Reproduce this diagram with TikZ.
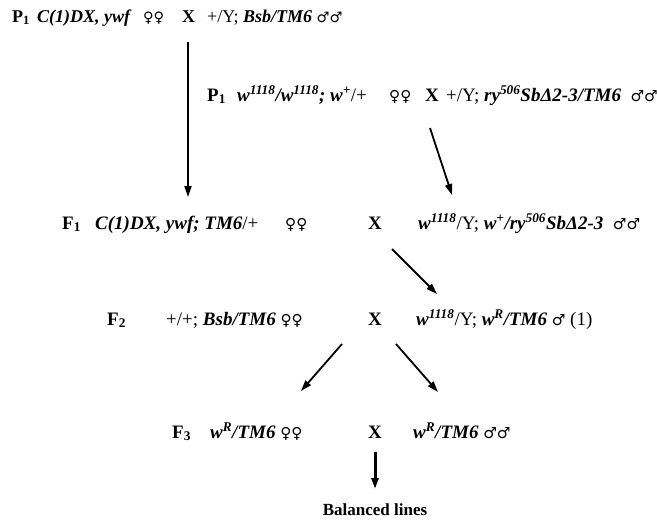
\documentclass[tikz,border=0pt]{standalone}
\usepackage{fontspec}
\setmainfont{Liberation Serif}
\newfontfamily\symfont[Scale=0.8]{DejaVu Sans}
\usetikzlibrary{arrows.meta}
\newcommand\gt[1]{\textbf{\textit{#1}}}
\newcommand\fem{{\symfont ♀♀}}
\newcommand\mal{{\symfont ♂♂}}
\newcommand\onemal{{\symfont ♂}}
\tikzset{
  txt/.style={inner sep=0pt, anchor=base west, font=\fontsize{19}{22}\selectfont},
  toprow/.style={txt, font=\fontsize{18}{21}\selectfont},
  gen/.style={txt, font=\fontsize{19}{22}\selectfont\bfseries},
  crossx/.style={txt, font=\fontsize{19}{22}\selectfont\bfseries},
  arr/.style={line width=1.8pt, -{Triangle[length=11pt,width=7pt]}},
}
\begin{document}
\begin{tikzpicture}[x=1pt,y=-1pt]
\useasboundingbox (0,0) rectangle (657,520);

% first parental cross
\node[gen, font=\fontsize{18}{21}\selectfont\bfseries] (p1a) at (12,22) {P\textsubscript{1}};
\node[toprow] (g1a) at (37,22) {\gt{C(1)DX, ywf}};
\node[toprow] (s1a) at (143,22) {\fem};
\node[crossx, font=\fontsize{18}{21}\selectfont\bfseries] (x1a) at (182,22) {X};
\node[toprow] (m1a) at (207,22) {+/Y; \gt{Bsb/TM6} \mal};

% second parental cross
\node[gen] (p1b) at (207,101) {P\textsubscript{1}};
\node[txt] (g1b) at (237,101) {\gt{w\textsuperscript{1118}/w\textsuperscript{1118}; w\textsuperscript{+}}/+};
\node[txt] (s1b) at (389,101) {\fem};
\node[crossx] (x1b) at (425,101) {X};
\node[txt] (m1b) at (446,101) {+/Y; \gt{ry\textsuperscript{506}SbΔ2-3/TM6}\enspace\mal};

% F1
\node[gen] (f1) at (62,229) {F\textsubscript{1}};
\node[txt] (g2) at (95,229) {\gt{C(1)DX, ywf; TM6}/+};
\node[txt] (s2) at (285,229) {\fem};
\node[crossx] (x2) at (368,229) {X};
\node[txt] (m2) at (418,229) {\gt{w\textsuperscript{1118}}/Y; \gt{w\textsuperscript{+}/ry\textsuperscript{506}SbΔ2-3}\enspace\mal};

% F2
\node[gen] (f2) at (107,325) {F\textsubscript{2}};
\node[txt] (g3) at (166,325) {+/+; \gt{Bsb/TM6} \fem};
\node[crossx] (x3) at (368,325) {X};
\node[txt] (m3) at (416,325) {\gt{w\textsuperscript{1118}}/Y; \gt{w\textsuperscript{R}/TM6} \onemal{} (1)};

% F3
\node[gen] (f3) at (172,438) {F\textsubscript{3}};
\node[txt] (g4) at (210,438) {\gt{w\textsuperscript{R}/TM6} \fem};
\node[crossx] (x4) at (368,438) {X};
\node[txt] (m4) at (413,438) {\gt{w\textsuperscript{R}/TM6} \mal};

\node[inner sep=0pt, anchor=base, font=\fontsize{17}{20}\selectfont\bfseries] (bal) at (375,515) {Balanced lines};

% arrow end points
\coordinate (a1s) at (188,42);  \coordinate (a1e) at (188,197);
\coordinate (a2s) at (430,128); \coordinate (a2e) at (452,195);
\coordinate (a3s) at (392,249); \coordinate (a3e) at (437,294);
\coordinate (a4s) at (342,344); \coordinate (a4e) at (301,391);
\coordinate (a5s) at (396,344); \coordinate (a5e) at (438,392);
\coordinate (a6s) at (375,452); \coordinate (a6e) at (375,489);

\draw[arr] (a1s) -- (a1e);
\draw[arr] (a2s) -- (a2e);
\draw[arr] (a3s) -- (a3e);
\draw[arr] (a4s) -- (a4e);
\draw[arr] (a5s) -- (a5e);
\draw[arr, line width=3pt] (a6s) -- (a6e);
\end{tikzpicture}
\end{document}
